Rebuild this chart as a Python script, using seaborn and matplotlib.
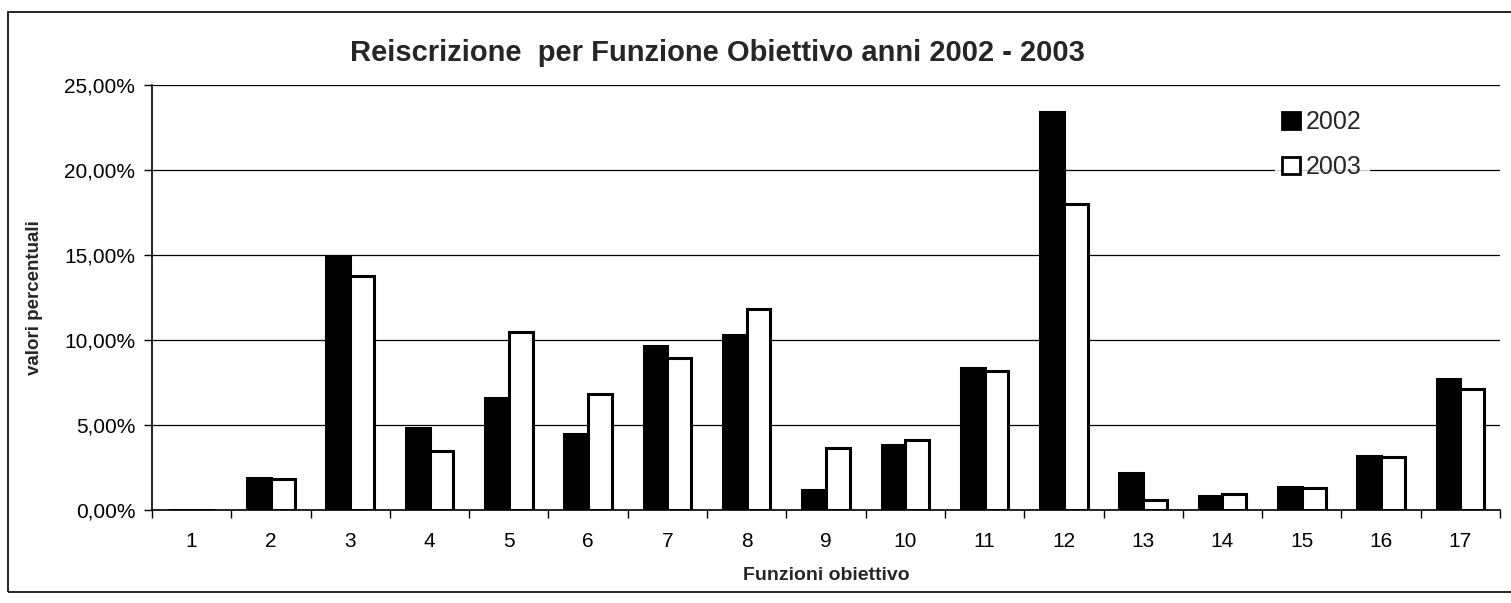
import matplotlib
matplotlib.use("Agg")
import matplotlib.pyplot as plt
import matplotlib.patches as mpatches
from matplotlib.ticker import FuncFormatter, FixedLocator
import seaborn as sns
import pandas as pd

categories = [str(i) for i in range(1, 18)]
values_2002 = [0.0, 1.88, 14.9, 4.85, 6.6, 4.5, 9.65, 10.3, 1.2, 3.85, 8.35, 23.4, 2.2, 0.85, 1.35, 3.2, 7.7]
values_2003 = [0.0, 1.85, 13.75, 3.45, 10.5, 6.85, 8.95, 11.8, 3.65, 4.1, 8.2, 18.0, 0.6, 0.95, 1.3, 3.1, 7.1]
series = ["2002", "2003"]
title = "Reiscrizione  per Funzione Obiettivo anni 2002 - 2003"
yticks = [0, 5, 10, 15, 20, 25]

df = pd.DataFrame({
    "Funzione": categories * 2,
    "valore": values_2002 + values_2003,
    "anno": [series[0]] * len(categories) + [series[1]] * len(categories),
})

sns.set_theme(style="white")
plt.rcParams["font.family"] = ["Liberation Sans", "DejaVu Sans"]

fig = plt.figure(figsize=(15.11, 6.03), dpi=100)
ax = fig.add_axes([152 / 1511, 1 - 510 / 603, (1500 - 152) / 1511, (510 - 85) / 603])

sns.barplot(data=df, x="Funzione", y="valore", hue="anno", order=categories,
            hue_order=series, palette={"2002": "black", "2003": "white"},
            width=0.6, gap=0, edgecolor="black", linewidth=2.2, saturation=1,
            legend=False, ax=ax, zorder=3)

ax.set_ylim(0, 25)
ax.set_xlim(-0.5, len(categories) - 0.5)
ax.yaxis.set_major_locator(FixedLocator(yticks))
ax.yaxis.set_major_formatter(FuncFormatter(lambda v, p: f"{v:.2f}".replace(".", ",") + "%"))
ax.grid(axis="y", color="black", linewidth=0.9, zorder=0)
ax.set_axisbelow(True)

for s in ["top", "right"]:
    ax.spines[s].set_visible(False)
for s in ["left", "bottom"]:
    ax.spines[s].set_color("black")
    ax.spines[s].set_linewidth(1.2)

ax.set_xticks(range(len(categories)))
ax.set_xticklabels(categories)
ax.set_xticks([i + 0.5 for i in range(-1, len(categories))], minor=True)
ax.tick_params(axis="x", which="major", length=0, labelsize=15, pad=16, colors="black")
ax.tick_params(axis="x", which="minor", length=6, width=1, direction="out", color="black", bottom=True)
ax.tick_params(axis="y", which="major", length=6, width=1, direction="out", labelsize=15,
               colors="black", left=True, pad=6)

ax.set_xlabel("Funzioni obiettivo", fontsize=14, fontweight="bold", labelpad=11)
ax.set_ylabel("valori percentuali", fontsize=13.5, fontweight="bold", labelpad=15)

fig.text(717 / 1511, 1 - 53 / 603, title, ha="center", va="center",
         fontsize=21, fontweight="bold")

handles = [mpatches.Patch(facecolor="black", edgecolor="black", linewidth=2, label="2002"),
           mpatches.Patch(facecolor="white", edgecolor="black", linewidth=2, label="2003")]
leg = fig.legend(handles=handles, loc="upper left", bbox_to_anchor=(1262 / 1511, 1 - 90 / 603),
                 fontsize=18, frameon=True, handlelength=0.7, handleheight=0.7,
                 handletextpad=0.25, labelspacing=0.85, borderpad=0.3, fancybox=False)
leg.get_frame().set_facecolor("white")
leg.get_frame().set_edgecolor("white")

border = mpatches.Rectangle((8 / 1511, 1 - 592 / 603), 1.0, (592 - 12) / 603,
                            transform=fig.transFigure, fill=False, edgecolor="black",
                            linewidth=1.2)
fig.patches.append(border)

fig.savefig("out.png", dpi=100)
